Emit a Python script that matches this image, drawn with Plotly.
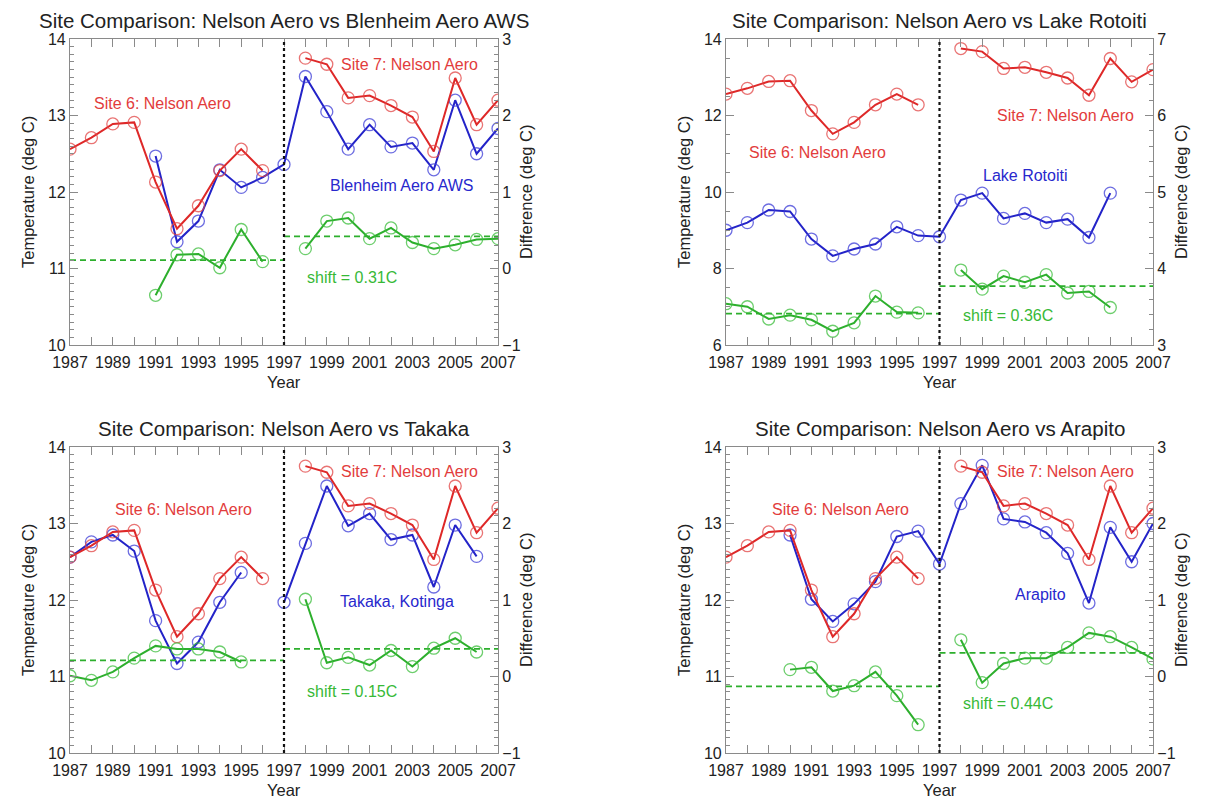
import plotly.graph_objects as go

# ---------------- data ----------------
YEARS = list(range(1987, 2008))

# Nelson Aero annual mean temperature (Site 6: 1987-1996, Site 7: 1998-2007)
NELSON = [12.56, 12.71, 12.89, 12.91, 12.13, 11.52, 11.82, 12.28, 12.56, 12.28, None,
          13.75, 13.67, 13.23, 13.26, 13.13, 12.98, 12.53, 13.49, 12.88, 13.20]

BLENHEIM = [None, None, None, None, 12.47, 11.35, 11.62, 12.29, 12.06, 12.19, 12.36,
            13.51, 13.05, 12.56, 12.88, 12.59, 12.64, 12.29, 13.20, 12.50, 12.83]
DIFF_BLENHEIM = [None, None, None, None, -0.35, 0.18, 0.19, 0.01, 0.51, 0.09, None,
                 0.26, 0.62, 0.66, 0.39, 0.53, 0.34, 0.26, 0.31, 0.38, 0.39]
MEAN_BLENHEIM = [0.11, 0.42]

ROTOITI = [9.00, 9.20, 9.53, 9.49, 8.77, 8.33, 8.51, 8.64, 9.09, 8.86, 8.83,
           9.79, 9.97, 9.31, 9.44, 9.20, 9.29, 8.81, 9.97, None, None]
DIFF_ROTOITI = [3.54, 3.50, 3.34, 3.39, 3.33, 3.18, 3.29, 3.64, 3.43, 3.42, None,
                3.98, 3.73, 3.90, 3.82, 3.92, 3.68, 3.70, 3.49, None, None]
MEAN_ROTOITI = [3.41, 3.77]

TAKAKA = [12.56, 12.76, 12.85, 12.64, 11.73, 11.17, 11.45, 11.97, 12.36, None, 11.97,
          12.74, 13.49, 12.97, 13.13, 12.79, 12.85, 12.17, 12.98, 12.57, None]
DIFF_TAKAKA = [0.01, -0.05, 0.06, 0.24, 0.40, 0.36, 0.36, 0.32, 0.19, None, None,
               1.01, 0.18, 0.25, 0.15, 0.34, 0.13, 0.37, 0.50, 0.32, None]
MEAN_TAKAKA = [0.21, 0.36]

ARAPITO = [None, None, None, 12.85, 12.01, 11.72, 11.95, 12.24, 12.83, 12.90, 12.47,
           13.26, 13.76, 13.06, 13.02, 12.88, 12.61, 11.96, 12.95, 12.50, 13.00]
DIFF_ARAPITO = [None, None, None, 0.09, 0.12, -0.19, -0.12, 0.06, -0.25, -0.63, None,
                0.48, -0.08, 0.17, 0.24, 0.24, 0.38, 0.57, 0.52, 0.38, 0.23]
MEAN_ARAPITO = [-0.13, 0.31]

PERIODS = [(1987, 1997), (1997, 2007)]
BREAK_YEAR = 1997

TITLES = ["Site Comparison: Nelson Aero vs Blenheim Aero AWS",
          "Site Comparison: Nelson Aero vs Lake Rotoiti",
          "Site Comparison: Nelson Aero vs Takaka",
          "Site Comparison: Nelson Aero vs Arapito"]
NEIGHBOUR_NAMES = ["Blenheim Aero AWS", "Lake Rotoiti", "Takaka, Kotinga", "Arapito"]
SHIFT_LABELS = ["shift = 0.31C", "shift = 0.36C", "shift = 0.15C", "shift = 0.44C"]
NEIGHBOURS = [BLENHEIM, ROTOITI, TAKAKA, ARAPITO]
DIFFS = [DIFF_BLENHEIM, DIFF_ROTOITI, DIFF_TAKAKA, DIFF_ARAPITO]
MEANS = [MEAN_BLENHEIM, MEAN_ROTOITI, MEAN_TAKAKA, MEAN_ARAPITO]
SITE6_LABEL = "Site 6: Nelson Aero"
SITE7_LABEL = "Site 7: Nelson Aero"

# ---------------- style / layout ----------------
W, H = 1207, 800
PAGE_OFFSET = 8  # default body margin of the html page
LEFTS = [70, 726, 70, 726]
RIGHTS = [498, 1153, 498, 1153]
TOPS = [39, 39, 447, 447]
BOTTOMS = [345, 345, 753, 753]
TEMP_RANGES = [[10, 14], [6, 14], [10, 14], [10, 14]]
TEMP_DTICK = [1, 2, 1, 1]
TEMP_MINOR = [0.1, 0.5, 0.1, 0.1]
DIFF_RANGES = [[-1, 3], [3, 7], [-1, 3], [-1, 3]]
DIFF_MINOR = [0.1, 0.2, 0.1, 0.1]

# label positions (data coords on the temperature axis)
LABEL_POS = [
    dict(s6=(1991.3, 13.16), s7=(2002.85, 13.67), nb=(2002.5, 12.08), sh=(2000.2, 10.88)),
    dict(s6=(1991.3, 11.02), s7=(2002.9, 12.0), nb=(2001.05, 10.43), sh=(2000.2, 6.76)),
    dict(s6=(1992.3, 13.18), s7=(2002.85, 13.68), nb=(2002.3, 11.98), sh=(2000.2, 10.80)),
    dict(s6=(1992.35, 13.18), s7=(2002.9, 13.68), nb=(2001.75, 12.07), sh=(2000.2, 10.65)),
]

RED = "rgb(222,40,40)"
RED_M = "rgba(226,70,70,0.75)"
BLUE = "rgb(35,35,200)"
BLUE_M = "rgba(60,60,215,0.75)"
GREEN = "rgb(45,175,45)"
GREEN_M = "rgba(60,190,60,0.75)"
RED_T = "rgb(226,60,60)"
BLUE_T = "rgb(40,40,205)"
GREEN_T = "rgb(55,185,55)"
AXC = "#8a8a8a"
FONT = "Liberation Sans, Arial, Helvetica, sans-serif"
TXT = "#222222"

fig = go.Figure()
annotations = []
shapes = []
layout_axes = {}


def px_x(p):
    return (p - PAGE_OFFSET) / W


def px_y(p):
    return 1 - (p - PAGE_OFFSET) / H


def axid(letter, n):
    return letter if n == 1 else f"{letter}{n}"


for i in range(4):
    xn = axid("x", i + 1)
    yt = axid("y", 2 * i + 1)
    yd = axid("y", 2 * i + 2)
    xkey = "xaxis" if i == 0 else f"xaxis{i + 1}"
    ytkey = "yaxis" if i == 0 else f"yaxis{2 * i + 1}"
    ydkey = f"yaxis{2 * i + 2}"

    xdom = [px_x(LEFTS[i]), px_x(RIGHTS[i])]
    ydom = [px_y(BOTTOMS[i]), px_y(TOPS[i])]

    common = dict(showline=True, linecolor=AXC, linewidth=1.2, ticks="inside",
                  ticklen=8, tickcolor=AXC, tickwidth=1, automargin=False,
                  tickfont=dict(family=FONT, size=16, color=TXT),
                  showgrid=False, zeroline=False, fixedrange=True)

    layout_axes[xkey] = dict(common, domain=xdom, anchor=yt, range=[1987, 2007],
                             tickmode="linear", tick0=1987, dtick=2, mirror="allticks",
                             ticklabelstandoff=3,
                             minor=dict(ticks="inside", ticklen=4, tickcolor=AXC, dtick=1,
                                        showgrid=False))
    layout_axes[ytkey] = dict(common, domain=ydom, anchor=xn, range=TEMP_RANGES[i],
                              tickmode="linear", tick0=0, dtick=TEMP_DTICK[i], side="left",
                              minor=dict(ticks="inside", ticklen=4, tickcolor=AXC,
                                         dtick=TEMP_MINOR[i], showgrid=False))
    layout_axes[ydkey] = dict(common, overlaying=yt, anchor=xn, side="right",
                              range=DIFF_RANGES[i], tickmode="linear", tick0=0, dtick=1,
                              minor=dict(ticks="inside", ticklen=4, tickcolor=AXC,
                                         dtick=DIFF_MINOR[i], showgrid=False))

    mk = dict(symbol="circle-open", size=12)
    # difference mean lines (dashed)
    for (a, b), m in zip(PERIODS, MEANS[i]):
        fig.add_trace(go.Scatter(x=[a, b], y=[m, m], xaxis=xn, yaxis=yd, mode="lines",
                                 line=dict(color=GREEN, width=1.8, dash="6px,4px"),
                                 showlegend=False, hoverinfo="skip"))
    # difference series
    fig.add_trace(go.Scatter(x=YEARS, y=DIFFS[i], xaxis=xn, yaxis=yd, mode="lines+markers",
                             line=dict(color=GREEN, width=2),
                             marker=dict(mk, color=GREEN_M, line=dict(width=1.3)),
                             connectgaps=False, showlegend=False))
    # neighbour
    fig.add_trace(go.Scatter(x=YEARS, y=NEIGHBOURS[i], xaxis=xn, yaxis=yt, mode="lines+markers",
                             line=dict(color=BLUE, width=2),
                             marker=dict(mk, color=BLUE_M, line=dict(width=1.3)),
                             connectgaps=False, showlegend=False))
    # Nelson
    fig.add_trace(go.Scatter(x=YEARS, y=NELSON, xaxis=xn, yaxis=yt, mode="lines+markers",
                             line=dict(color=RED, width=2),
                             marker=dict(mk, color=RED_M, line=dict(width=1.3)),
                             connectgaps=False, showlegend=False))

    # dotted break line
    shapes.append(dict(type="line", xref=xn, yref=f"{yt} domain", x0=BREAK_YEAR, x1=BREAK_YEAR,
                       y0=0, y1=1, line=dict(color="#111", width=2.2, dash="dot")))

    # titles & axis labels
    cx = (LEFTS[i] + RIGHTS[i]) / 2
    annotations.append(dict(text=TITLES[i], xref="paper", yref="paper", x=px_x(cx),
                            y=px_y(TOPS[i] - 19), xanchor="center", yanchor="middle",
                            showarrow=False, font=dict(family=FONT, size=20.5, color=TXT)))
    annotations.append(dict(text="Year", xref="paper", yref="paper", x=px_x(cx),
                            y=px_y(BOTTOMS[i] + 37), xanchor="center", yanchor="middle",
                            showarrow=False, font=dict(family=FONT, size=16.5, color=TXT)))
    annotations.append(dict(text="Temperature (deg C)", xref="paper", yref="paper",
                            x=px_x(LEFTS[i] - 42), y=px_y((TOPS[i] + BOTTOMS[i]) / 2),
                            xanchor="center", yanchor="middle", textangle=-90, showarrow=False,
                            font=dict(family=FONT, size=16.5, color=TXT)))
    annotations.append(dict(text="Difference (deg C)", xref="paper", yref="paper",
                            x=px_x(RIGHTS[i] + 28), y=px_y((TOPS[i] + BOTTOMS[i]) / 2),
                            xanchor="center", yanchor="middle", textangle=-90, showarrow=False,
                            font=dict(family=FONT, size=16.5, color=TXT)))

    lp = LABEL_POS[i]
    for key, text, col in [("s6", SITE6_LABEL, RED_T), ("s7", SITE7_LABEL, RED_T),
                           ("nb", NEIGHBOUR_NAMES[i], BLUE_T), ("sh", SHIFT_LABELS[i], GREEN_T)]:
        annotations.append(dict(text=text, xref=xn, yref=yt, x=lp[key][0], y=lp[key][1],
                                xanchor="center", yanchor="middle", showarrow=False,
                                font=dict(family=FONT, size=16, color=col)))

fig.update_layout(width=W, height=H, autosize=False,
                  margin=dict(l=0, r=0, t=0, b=0, pad=0),
                  paper_bgcolor="white", plot_bgcolor="white",
                  showlegend=False, annotations=annotations, shapes=shapes,
                  **layout_axes)

fig.write_html("out.html")
